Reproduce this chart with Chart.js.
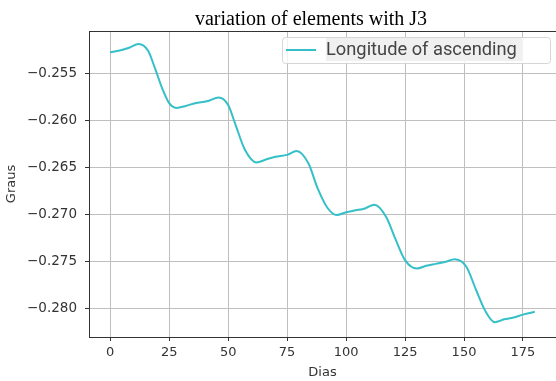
<!DOCTYPE html>
<html>
<head>
<meta charset="utf-8">
<script src="https://cdn.jsdelivr.net/npm/chart.js@4/dist/chart.umd.min.js"></script>
<style>
  html, body { margin: 0; padding: 0; background: #fff; }
  #wrap { width: 556px; height: 381px; }
</style>
</head>
<body>
<div id="wrap"><canvas id="chart" width="556" height="381"></canvas></div>
<script>
// data
const dias = [0, 4, 8, 12, 16, 19, 22, 25, 28, 32, 36, 41, 46, 50, 53, 57, 62, 66, 70, 75, 79, 84, 88, 92,
  96, 100, 104, 108, 112, 117, 121, 125, 130, 134, 138, 142, 146, 151, 155, 159, 163, 167, 171, 175, 180];
const longitude = [-0.2528, -0.2526, -0.2523, -0.2519, -0.2526, -0.2545, -0.2566, -0.2582, -0.2587, -0.2585,
  -0.2582, -0.2580, -0.2576, -0.2584, -0.2604, -0.2631, -0.2645, -0.2642, -0.2639, -0.2637, -0.2633, -0.2646,
  -0.2673, -0.2693, -0.2701, -0.2698, -0.2696, -0.2694, -0.2690, -0.2703, -0.2727, -0.2749, -0.2758, -0.2755,
  -0.2753, -0.2751, -0.2748, -0.2756, -0.2780, -0.2803, -0.2815, -0.2812, -0.2810, -0.2807, -0.2804];
const xTicks = [0, 25, 50, 75, 100, 125, 150, 175];
const yTicks = [-0.280, -0.275, -0.270, -0.265, -0.260, -0.255];

const titulo = 'variation of elements with J3';
const serieLabel = 'Longitude of ascending';
const cor = '#35c0c8';

const points = dias.map((d, i) => ({ x: d, y: longitude[i] }));

// title, legend and top spine drawn by hand (matplotlib look)
const extras = {
  id: 'extras',
  afterDraw(chart) {
    const ctx = chart.ctx;
    const a = chart.chartArea;
    ctx.save();
    // top spine
    ctx.strokeStyle = '#333';
    ctx.lineWidth = 1;
    ctx.beginPath();
    ctx.moveTo(a.left, a.top + 0.5);
    ctx.lineTo(a.right, a.top + 0.5);
    ctx.stroke();
    // title
    ctx.fillStyle = '#000';
    ctx.font = '20px "Liberation Serif"';
    ctx.textAlign = 'center';
    ctx.textBaseline = 'alphabetic';
    ctx.fillText(titulo, 311, 25);
    // legend box
    const bx = 282.5, by = 37.5, bw = 268, bh = 26;
    ctx.fillStyle = 'rgba(255,255,255,0.8)';
    ctx.strokeStyle = '#d6d6d6';
    ctx.beginPath();
    ctx.roundRect(bx, by, bw, bh, 3);
    ctx.fill();
    ctx.stroke();
    ctx.fillStyle = '#f0f0f0';
    ctx.fillRect(326, 38, 196, 23);
    ctx.strokeStyle = cor;
    ctx.lineWidth = 2;
    ctx.beginPath();
    ctx.moveTo(286, 50);
    ctx.lineTo(316, 50);
    ctx.stroke();
    ctx.fillStyle = '#444';
    ctx.font = '18.3px Roboto';
    ctx.textAlign = 'left';
    ctx.textBaseline = 'middle';
    ctx.fillText(serieLabel, 326, 50);
    ctx.restore();
  }
};

new Chart(document.getElementById('chart'), {
  type: 'line',
  data: {
    datasets: [{
      label: serieLabel,
      data: points,
      borderColor: cor,
      borderWidth: 2,
      pointRadius: 0,
      fill: false,
      cubicInterpolationMode: 'monotone'
    }]
  },
  options: {
    responsive: false,
    animation: false,
    layout: { padding: { top: 31, right: 0, left: 0, bottom: 0 } },
    plugins: {
      legend: { display: false },
      title: { display: false },
      tooltip: { enabled: false }
    },
    scales: {
      x: {
        type: 'linear',
        min: -9,
        max: 189,
        afterBuildTicks: s => { s.ticks = xTicks.map(v => ({ value: v })); },
        afterFit: s => { s.height = 44; },
        grid: { color: '#bfbfbf', lineWidth: 1, tickLength: 4, tickColor: '#333' },
        border: { display: true, color: '#333', width: 1 },
        ticks: {
          color: '#333', padding: 4,
          font: { family: 'DejaVu Sans', size: 13 },
          maxRotation: 0, autoSkip: false,
          callback: v => String(v)
        },
        title: {
          display: true, text: 'Dias', color: '#333',
          font: { family: 'DejaVu Sans', size: 13 },
          padding: { top: 0, bottom: 1 }
        }
      },
      y: {
        min: -0.28308,
        max: -0.25052,
        afterBuildTicks: s => { s.ticks = yTicks.map(v => ({ value: v })); },
        afterFit: s => { s.width = 89; },
        grid: { color: '#bfbfbf', lineWidth: 1, tickLength: 4, tickColor: '#333' },
        border: { display: true, color: '#333', width: 1 },
        ticks: {
          color: '#333', padding: 8,
          font: { family: 'DejaVu Sans', size: 13.5 },
          autoSkip: false,
          callback: v => '\u2212' + Math.abs(v).toFixed(3)
        },
        title: {
          display: true, text: 'Graus', color: '#333',
          font: { family: 'DejaVu Sans', size: 13 },
          padding: { top: 4, bottom: 0 }
        }
      }
    }
  },
  plugins: [extras]
});
</script>
</body>
</html>
